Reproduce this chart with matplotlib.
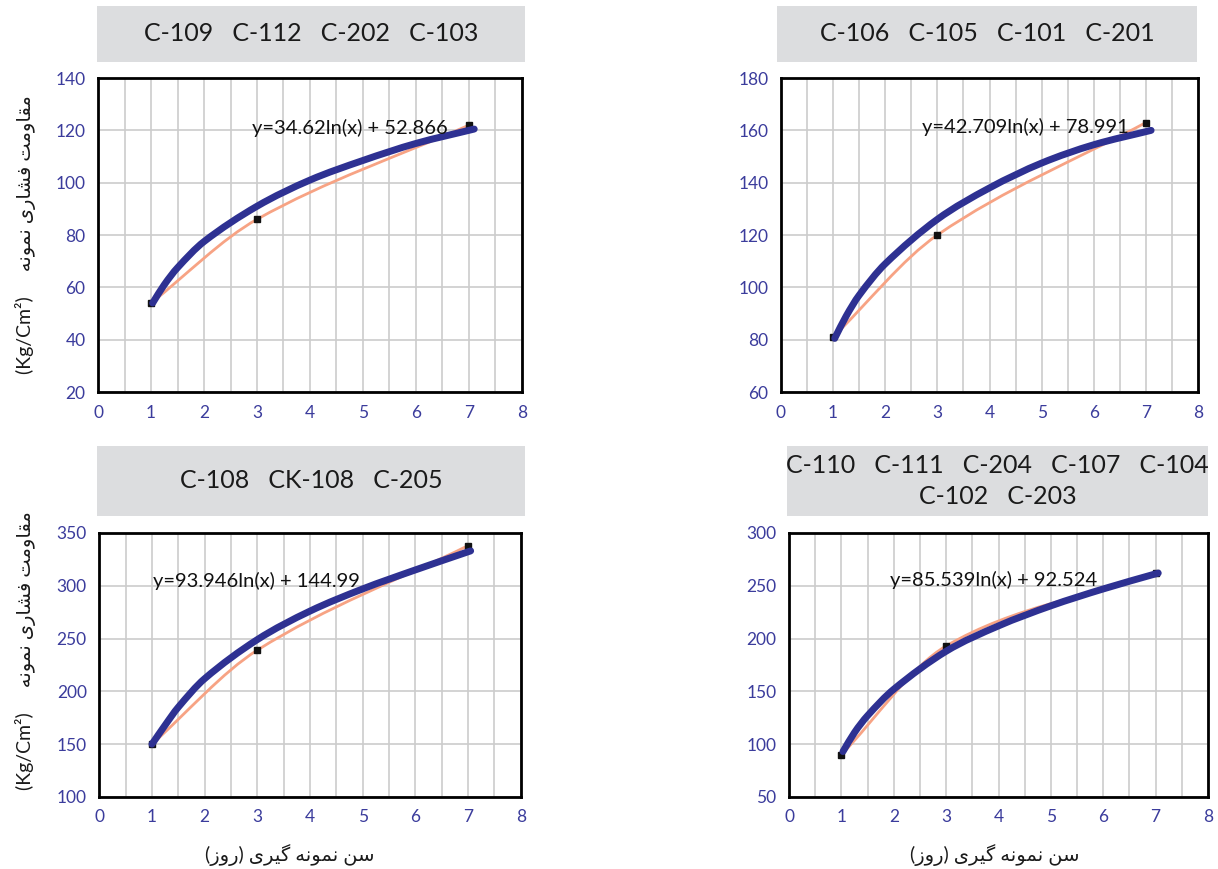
import matplotlib
matplotlib.use("Agg")
import matplotlib.pyplot as plt
from matplotlib.path import Path
from matplotlib.patches import PathPatch, Rectangle

plt.rcParams['font.family'] = ['Lato', 'DejaVu Sans']

# ---- data ----
days = [1, 3, 7]

titles = [
    "C-109   C-112   C-202   C-103",
    "C-106   C-105   C-101   C-201",
    "C-108   CK-108   C-205",
    "C-110   C-111   C-204   C-107   C-104\nC-102   C-203",
]
equations = [
    "y=34.62ln(x) + 52.866",
    "y=42.709ln(x) + 78.991",
    "y=93.946ln(x) + 144.99",
    "y=85.539ln(x) + 92.524",
]

# measured points (black squares, joined by the thin orange smooth line)
meas_tl = [54, 86, 122]
meas_tr = [81, 120, 163]
meas_bl = [150, 239, 338]
meas_br = [90, 193, 262]

# thick blue log trend line
trend_x_tl = [1.03, 1.25, 1.5, 2, 3, 4, 5, 6, 7.1]
trend_y_tl = [54, 61, 67.5, 77.5, 91, 101, 108.5, 115, 120.5]
trend_x_tr = [1.03, 1.25, 1.5, 2, 3, 4, 5, 6, 7.1]
trend_y_tr = [80.5, 89, 97, 109, 126, 138, 147.5, 154.5, 160]
trend_x_bl = [1.0, 1.25, 1.5, 2, 3, 4, 5, 6, 7.05]
trend_y_bl = [150, 168, 185, 212, 249, 276, 297, 315, 333]
trend_x_br = [1.03, 1.25, 1.5, 2, 3, 4, 5, 6, 7.05]
trend_y_br = [93, 111, 127, 152, 188, 212, 231, 247, 262]

y_limits = [(20, 140), (60, 180), (100, 350), (50, 300)]
y_steps = [20, 20, 50, 50]
eq_pos = [(2.9, 121), (2.7, 161.3), (1.02, 305), (1.93, 255.5)]

BLUE = "#2e3192"
ORANGE = "#f7a384"
TICK = "#3b3c9c"
GRID = "#cccccc"
BOX = "#dcdddf"

# ---- persian text shaping (matplotlib has no bidi/joining) ----
FORMS = {  # isolated, final, initial, medial
    "\u0645": ("\uFEE1", "\uFEE2", "\uFEE3", "\uFEE4"),
    "\u0642": ("\uFED5", "\uFED6", "\uFED7", "\uFED8"),
    "\u0627": ("\uFE8D", "\uFE8E"),
    "\u0648": ("\uFEED", "\uFEEE"),
    "\u062A": ("\uFE95", "\uFE96", "\uFE97", "\uFE98"),
    "\u0641": ("\uFED1", "\uFED2", "\uFED3", "\uFED4"),
    "\u0634": ("\uFEB5", "\uFEB6", "\uFEB7", "\uFEB8"),
    "\u0631": ("\uFEAD", "\uFEAE"),
    "\u06CC": ("\uFBFC", "\uFBFD", "\uFBFE", "\uFBFF"),
    "\u0646": ("\uFEE5", "\uFEE6", "\uFEE7", "\uFEE8"),
    "\u0647": ("\uFEE9", "\uFEEA", "\uFEEB", "\uFEEC"),
    "\u0633": ("\uFEB1", "\uFEB2", "\uFEB3", "\uFEB4"),
    "\u06AF": ("\uFB92", "\uFB93", "\uFB94", "\uFB95"),
    "\u0632": ("\uFEAF", "\uFEB0"),
}

def shape_word(w):
    out = []
    for i, ch in enumerate(w):
        f = FORMS.get(ch)
        if f is None:
            out.append(ch); continue
        prev = w[i - 1] if i > 0 else None
        nxt = w[i + 1] if i + 1 < len(w) else None
        jp = prev in FORMS and len(FORMS[prev]) == 4
        jn = len(f) == 4 and nxt in FORMS
        if jp and jn: out.append(f[3])
        elif jp: out.append(f[1])
        elif jn: out.append(f[2])
        else: out.append(f[0])
    return "".join(reversed(out))

def rtl(text):
    return " ".join(shape_word(w) for w in reversed(text.split(" ")))

ylab = "(Kg/Cm\u00b2)     " + rtl("مقاومت فشاری نمونه")
xlab = "(" + shape_word("روز") + ") " + rtl("سن نمونه گیری")

def smooth(ax, xs, ys, **kw):
    # cubic hermite through the points, drawn as a bezier path
    n = len(xs)
    m = []
    for i in range(n):
        a, b = max(i - 1, 0), min(i + 1, n - 1)
        m.append((ys[b] - ys[a]) / (xs[b] - xs[a]))
    verts, codes = [(xs[0], ys[0])], [Path.MOVETO]
    for i in range(n - 1):
        h = (xs[i + 1] - xs[i]) / 3
        verts += [(xs[i] + h, ys[i] + m[i] * h),
                  (xs[i + 1] - h, ys[i + 1] - m[i + 1] * h),
                  (xs[i + 1], ys[i + 1])]
        codes += [Path.CURVE4] * 3
    ax.add_patch(PathPatch(Path(verts, codes), fill=False, **kw))

fig = plt.figure(figsize=(12.18, 8.69), dpi=100)

axes_rect = [
    (0.0805, 0.5489, 0.348, 0.3613),
    (0.6412, 0.5489, 0.3424, 0.3613),
    (0.0815, 0.0829, 0.346, 0.3038),
    (0.6478, 0.0829, 0.344, 0.3038),
]
box_rect = [
    (0.0796, 0.9287, 0.3514, 0.0644),
    (0.6380, 0.9287, 0.3448, 0.0644),
    (0.0796, 0.4062, 0.3514, 0.0806),
    (0.6461, 0.4062, 0.3456, 0.0806),
]
ylab_dy = [0.0, None, 0.017, None]
xlab_x = [None, None, 0.238, 0.817]
meas = [meas_tl, meas_tr, meas_bl, meas_br]
trends = [(trend_x_tl, trend_y_tl), (trend_x_tr, trend_y_tr),
          (trend_x_bl, trend_y_bl), (trend_x_br, trend_y_br)]

for k in range(4):
    ax = fig.add_axes(axes_rect[k])
    lo, hi = y_limits[k]
    ax.set_xlim(0, 8); ax.set_ylim(lo, hi)
    ax.set_xticks(range(0, 9))
    ax.set_xticks([i + 0.5 for i in range(8)], minor=True)
    ax.set_yticks(range(lo, hi + 1, y_steps[k]))
    ax.grid(True, which="both", axis="x", color=GRID, lw=1.2)
    ax.grid(True, which="major", axis="y", color=GRID, lw=1.2)
    ax.set_axisbelow(True)
    ax.tick_params(which="both", length=0, labelsize=12.5, labelcolor=TICK, pad=9)
    for s in ax.spines.values():
        s.set_linewidth(2); s.set_color("black"); s.set_zorder(5)

    smooth(ax, days, meas[k], ec=ORANGE, lw=2, zorder=2)
    ax.plot(days, meas[k], "s", color="#111111", ms=4.5, zorder=3)
    tx, ty = trends[k]
    smooth(ax, tx, ty, ec=BLUE, lw=5, capstyle="round", zorder=4)
    ax.text(eq_pos[k][0], eq_pos[k][1], equations[k], fontsize=14.5,
            ha="left", va="center", color="#111111", zorder=6)

    bx = box_rect[k]
    fig.patches.append(Rectangle((bx[0], bx[1]), bx[2], bx[3], transform=fig.transFigure,
                                 fc=BOX, ec="none"))
    fig.text(bx[0] + bx[2] / 2, bx[1] + bx[3] / 2, titles[k], ha="center", va="center",
             fontsize=18, color="#1a1a1a", linespacing=1.45)

    if ylab_dy[k] is not None:
        fig.text(0.021, axes_rect[k][1] + axes_rect[k][3] / 2 + ylab_dy[k], ylab, rotation=90,
                 ha="center", va="center", fontsize=14, color="#1a1a1a",
                 family=["Lato", "DejaVu Sans"])
    if xlab_x[k] is not None:
        fig.text(xlab_x[k], 0.016, xlab, ha="center", va="center", fontsize=14,
                 color="#1a1a1a", family=["Lato", "DejaVu Sans"])

fig.savefig("out.png", dpi=100)
